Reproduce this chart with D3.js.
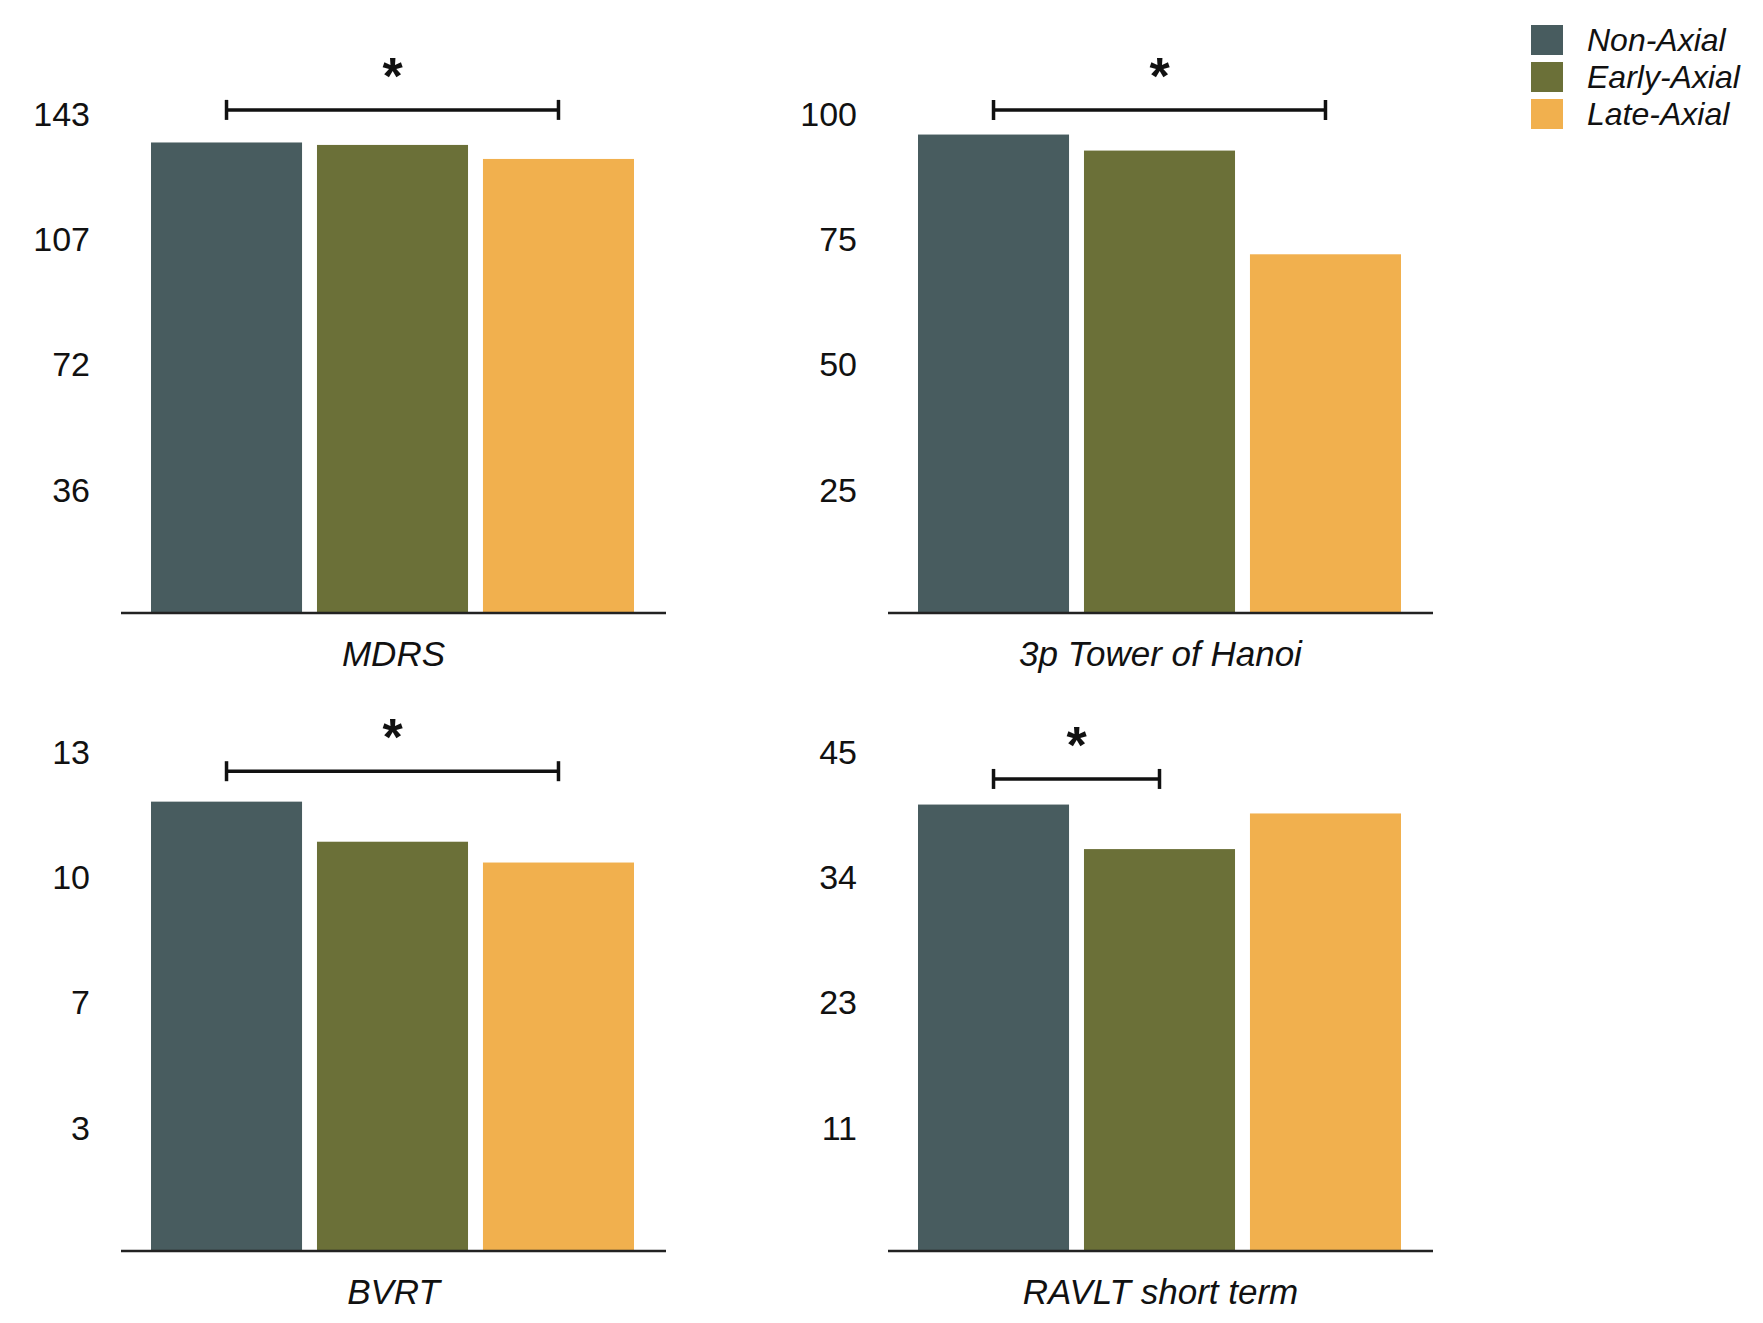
<!DOCTYPE html>
<html>
<head>
<meta charset="utf-8">
<script src="https://cdn.jsdelivr.net/npm/d3@7"></script>
<style>
  body { margin: 0; background: #fff; }
  text { font-family: "Liberation Sans", Arial, Helvetica, sans-serif; }
</style>
</head>
<body>
<div id="chart"></div>
<script>
// groups + colours
const groups = ["Non-Axial", "Early-Axial", "Late-Axial"];
const colors = ["#485c5f", "#6b7038", "#f1b04e"];

// one panel per test
const tests = ["MDRS", "3p Tower of Hanoi", "BVRT", "RAVLT short term"];
const yMax = [143, 100, 13, 45];

// bar values
const mdrs = [134.3, 133.6, 129.6];
const hanoi = [95.5, 92.3, 71.6];
const bvrt = [11.66, 10.62, 10.08];
const ravlt = [40.1, 36.1, 39.3];
const values = [mdrs, hanoi, bvrt, ravlt];

// significance brackets: which bars, and at what value level
const sigPairs = [[0, 2], [0, 2], [0, 2], [0, 1]];
const sigLevel = [143.6, 100.4, 12.45, 42.4];

const W = 1763, H = 1323;
const panelW = 545, panelH = 501;
const panelLeft = [121, 888];
const panelBase = [613, 1251];

const svg = d3.select("#chart").append("svg")
    .attr("width", W).attr("height", H);

tests.forEach(function (name, i) {
    const col = i % 2, row = Math.floor(i / 2);
    const g = svg.append("g")
        .attr("transform", `translate(${panelLeft[col]},${panelBase[row] - panelH})`);

    const x = d3.scaleBand().domain(groups).range([30, 513]).paddingInner(0.09);
    const y = d3.scaleLinear().domain([0, yMax[i]]).range([panelH, 0]);

    const data = groups.map((gr, k) => ({ group: gr, value: values[i][k], color: colors[k] }));

    g.selectAll("rect.bar").data(data).enter().append("rect")
        .attr("class", "bar")
        .attr("x", d => x(d.group))
        .attr("width", x.bandwidth())
        .attr("y", d => y(d.value))
        .attr("height", d => panelH - y(d.value))
        .attr("fill", d => d.color);

    // baseline
    g.append("line")
        .attr("x1", 0).attr("x2", panelW)
        .attr("y1", panelH).attr("y2", panelH)
        .attr("stroke", "#222").attr("stroke-width", 2.5);

    // y tick labels at quarters of the max
    const ticks = [0.25, 0.5, 0.75, 1].map(f => yMax[i] * f);
    const ax = g.append("g")
        .call(d3.axisLeft(y).tickValues(ticks).tickFormat(d3.format(".0f")).tickSize(0).tickPadding(31));
    ax.select(".domain").remove();
    ax.selectAll("text")
        .attr("dy", "0.39em")
        .style("font-size", "34px")
        .style("font-family", "'Liberation Sans', Arial, sans-serif")
        .attr("fill", "#111");

    // test name under the axis
    g.append("text")
        .attr("x", panelW / 2).attr("y", panelH + 53)
        .attr("text-anchor", "middle")
        .style("font-size", "35px").style("font-style", "italic")
        .attr("fill", "#111")
        .text(name);

    // significance bracket
    const p = sigPairs[i];
    const x1 = x(groups[p[0]]) + x.bandwidth() / 2;
    const x2 = x(groups[p[1]]) + x.bandwidth() / 2;
    const by = y(sigLevel[i]);
    const br = g.append("g").attr("stroke", "#111").attr("stroke-width", 3.5);
    br.append("line").attr("x1", x1).attr("x2", x2).attr("y1", by).attr("y2", by);
    br.append("line").attr("x1", x1).attr("x2", x1).attr("y1", by - 10).attr("y2", by + 10);
    br.append("line").attr("x1", x2).attr("x2", x2).attr("y1", by - 10).attr("y2", by + 10);
    g.append("text")
        .attr("x", (x1 + x2) / 2).attr("y", by - 16)
        .attr("text-anchor", "middle")
        .style("font-size", "52px").style("font-weight", "bold")
        .attr("fill", "#111")
        .text("*");
});

// legend
const legend = svg.append("g").attr("transform", "translate(1531,25)");
groups.forEach(function (gr, k) {
    legend.append("rect")
        .attr("x", 0).attr("y", k * 37)
        .attr("width", 32).attr("height", 30)
        .attr("fill", colors[k]);
    legend.append("text")
        .attr("x", 56).attr("y", k * 37 + 15)
        .attr("dominant-baseline", "central")
        .style("font-size", "32px").style("font-style", "italic")
        .attr("fill", "#111")
        .text(gr);
});
</script>
</body>
</html>
